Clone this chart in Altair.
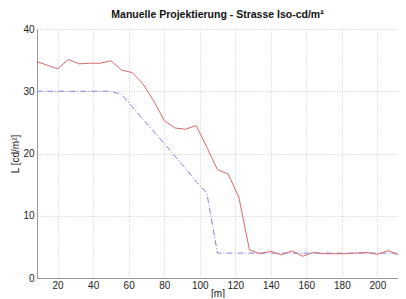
import altair as alt
import pandas as pd

x_vals = [8 + 6 * i for i in range(35)]
red_vals = [34.8, 34.2, 33.6, 35.1, 34.4, 34.5, 34.5, 34.9, 33.4, 33.0,
            31.2, 28.5, 25.3, 24.1, 23.9, 24.5, 21.0, 17.4, 16.7, 13.0,
            4.5, 3.9, 4.3, 3.7, 4.35, 3.5, 4.1, 3.9, 3.9, 3.9,
            4.0, 4.1, 3.8, 4.4, 3.7]
blue_vals = [30.0, 30.0, 30.0, 30.0, 30.0, 30.0, 30.0, 30.0, 29.5, 27.5,
             25.5, 23.6, 21.6, 19.6, 17.6, 15.5, 13.6, 4.0, 4.0, 4.0,
             4.0, 4.0, 4.0, 4.0, 4.0, 4.0, 4.0, 4.0, 4.0, 4.0,
             4.0, 4.0, 4.0, 4.0, 4.0]
x_ticks = [20, 40, 60, 80, 100, 120, 140, 160, 180, 200]
y_ticks = [0, 5, 10, 15, 20, 25, 30, 35, 40]

df_red = pd.DataFrame({"x": x_vals, "y": red_vals})
df_blue = pd.DataFrame({"x": x_vals, "y": blue_vals})

xs = alt.Scale(domain=[8.4, 211.6], nice=False, zero=False)
ys = alt.Scale(domain=[0, 40], nice=False)

x_axis = alt.Axis(values=x_ticks, title="[m]", grid=True, gridDash=[1, 2],
                  gridColor="#c8c8c8", domainColor="#999999", ticks=False,
                  labelPadding=2, titlePadding=-2)
y_axis = alt.Axis(values=y_ticks, title="L [cd/m²]", grid=True, gridDash=[1, 2],
                  gridColor="#c8c8c8", domainColor="#999999", ticks=False,
                  labelPadding=3, titlePadding=2)

blue = alt.Chart(df_blue).mark_line(color="#8080e0", strokeWidth=1, strokeDash=[6, 2, 1, 2], clip=True).encode(
    x=alt.X("x:Q", scale=xs, axis=x_axis),
    y=alt.Y("y:Q", scale=ys, axis=y_axis),
)
red = alt.Chart(df_red).mark_line(color="#d86868", strokeWidth=1, clip=True).encode(
    x=alt.X("x:Q", scale=xs),
    y=alt.Y("y:Q", scale=ys),
)

chart = (blue + red).properties(
    width=361, height=249,
    autosize=alt.AutoSizeParams(type="none"),
    padding={"left": 29, "top": 21, "right": 0, "bottom": 20},
    title=alt.TitleParams("Manuelle Projektierung - Strasse Iso-cd/m²", fontSize=10.5,
                          font="Liberation Sans", fontWeight="bold", color="#111111", offset=4),
).configure_view(stroke=None).configure_axis(
    labelFont="Liberation Sans", titleFont="Liberation Sans", labelFontSize=10,
    titleFontSize=10, titleFontWeight="normal", labelColor="#222222", titleColor="#222222",
)

chart.save("out.html", embed_options={"renderer": "svg", "actions": False})
